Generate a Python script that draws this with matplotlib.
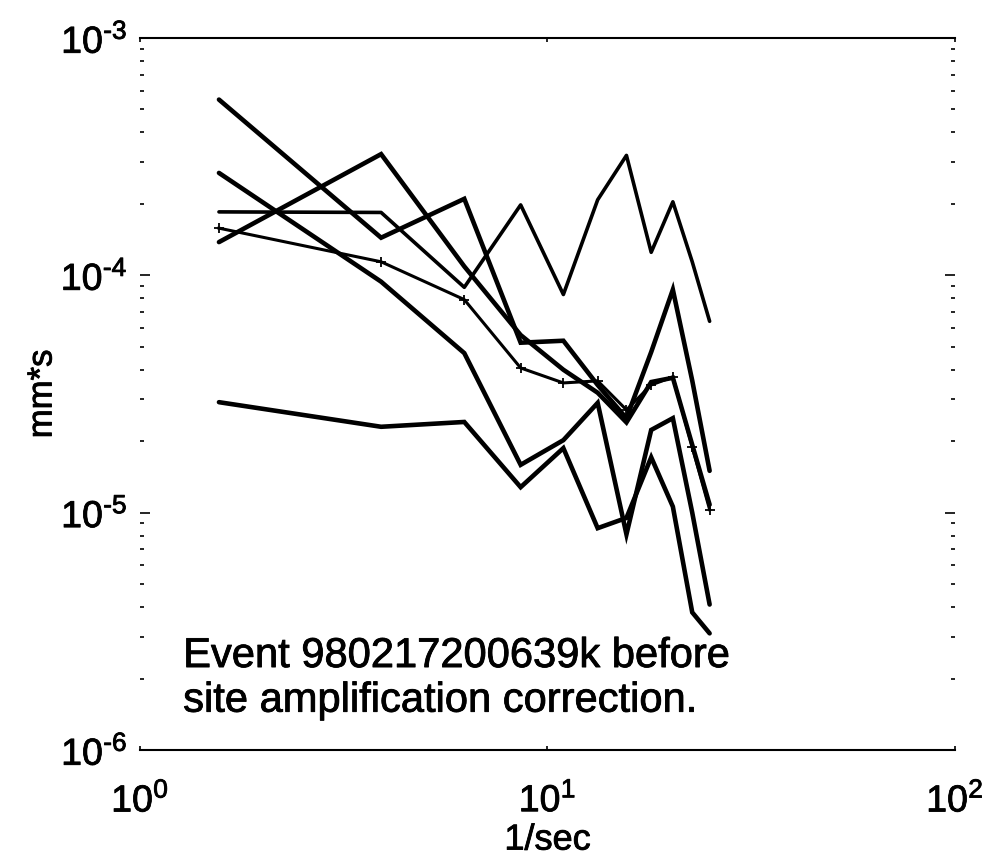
import matplotlib
matplotlib.use("Agg")
import matplotlib.pyplot as plt
import matplotlib.patheffects as pe
from matplotlib.ticker import LogLocator, FixedLocator, FixedFormatter, NullFormatter

plt.rcParams["font.family"] = ["Liberation Sans", "DejaVu Sans"]
plt.rcParams["mathtext.fontset"] = "custom"
plt.rcParams["mathtext.rm"] = "Liberation Sans"
plt.rcParams["mathtext.it"] = "Liberation Sans"

# frequencies (1/sec)
freq = [1.5625, 3.906, 6.25, 8.594, 10.94, 13.28, 15.625, 17.97, 20.31, 22.66, 25.0]

# spectra (mm*s)
sta_a = [5.5e-4, 1.44e-4, 2.10e-4, 5.2e-5, 5.3e-5, 3.45e-5, 2.5e-5, 4.75e-5, 8.7e-5, 3.6e-5, 1.5e-5]
sta_b = [1.38e-4, 3.24e-4, 1.09e-4, 5.6e-5, 4.0e-5, 3.2e-5, 2.4e-5, 3.55e-5, 3.7e-5, 1.93e-5, 1.08e-5]
sta_c = [1.85e-4, 1.84e-4, 8.9e-5, 1.98e-4, 8.3e-5, 2.08e-4, 3.2e-4, 1.25e-4, 2.04e-4, 1.14e-4, 6.4e-5]
sta_d = [2.70e-4, 9.4e-5, 4.7e-5, 1.59e-5, 2.02e-5, 2.9e-5, 8.1e-6, 2.23e-5, 2.5e-5, 1.0e-5, 4.1e-6]
sta_e = [2.92e-5, 2.30e-5, 2.41e-5, 1.28e-5, 1.87e-5, 8.6e-6, 9.5e-6, 1.71e-5, 1.06e-5, 3.8e-6, 3.1e-6]
sta_m = [1.58e-4, 1.14e-4, 7.9e-5, 4.07e-5, 3.52e-5, 3.59e-5, 2.71e-5, 3.45e-5, 3.73e-5, 1.89e-5, 1.03e-5]

xtick_labels = [r"$10^{0}$", r"$10^{1}$", r"$10^{2}$"]
ytick_labels = ["$10^{\u20106}$", "$10^{\u20105}$", "$10^{\u20104}$", "$10^{\u20103}$"]

thick = [pe.withStroke(linewidth=0.6, foreground="black")]

fig = plt.figure(figsize=(9.9, 8.57), dpi=100)
ax = fig.add_axes([0.1414, 0.1249, 0.8232, 0.8308])

for s in [sta_a, sta_b, sta_d, sta_e]:
    ax.plot(freq, s, color="black", lw=3.3, solid_capstyle="round", solid_joinstyle="miter")
ax.plot(freq, sta_c, color="black", lw=2.6, solid_capstyle="round")
ax.plot(freq, sta_m, color="black", lw=2.2, marker="+", ms=7, mew=1.3)

ax.set_xscale("log")
ax.set_yscale("log")
ax.set_xlim(1, 100)
ax.set_ylim(1e-6, 1e-3)

ax.spines["left"].set_visible(False)
ax.spines["right"].set_visible(False)
ax.spines["top"].set_linewidth(1.5)
ax.spines["bottom"].set_linewidth(1.5)

ax.xaxis.set_major_locator(FixedLocator([1, 10, 100]))
ax.xaxis.set_major_formatter(FixedFormatter(xtick_labels))
ax.yaxis.set_major_locator(FixedLocator([1e-6, 1e-5, 1e-4, 1e-3]))
ax.yaxis.set_major_formatter(FixedFormatter(ytick_labels))
ax.xaxis.set_minor_locator(LogLocator(base=10, subs=range(2, 10)))
ax.yaxis.set_minor_locator(LogLocator(base=10, subs=range(2, 10)))
ax.xaxis.set_minor_formatter(NullFormatter())
ax.yaxis.set_minor_formatter(NullFormatter())

ax.tick_params(which="both", direction="in", top=True, right=True, labelsize=27, width=1.2)
ax.tick_params(axis="y", which="major", length=7, pad=9)
ax.tick_params(axis="y", which="minor", length=3)
ax.tick_params(axis="x", which="major", length=3, pad=23)
ax.tick_params(axis="x", which="minor", length=0)
for lab in ax.get_xticklabels() + ax.get_yticklabels():
    lab.set_path_effects(thick)

ax.set_xlabel("1/sec", fontsize=26, path_effects=thick)
ax.set_ylabel("mm*s", fontsize=25, path_effects=thick)
ax.xaxis.set_label_coords(0.5, -0.102)
ax.yaxis.set_label_coords(-0.1, 0.5)

ax.text(0.053, 0.16, "Event 980217200639k before\nsite amplification correction.",
        transform=ax.transAxes, fontsize=30, va="top", ha="left", linespacing=1.15,
        path_effects=thick)

fig.savefig("out.png", dpi=100)
